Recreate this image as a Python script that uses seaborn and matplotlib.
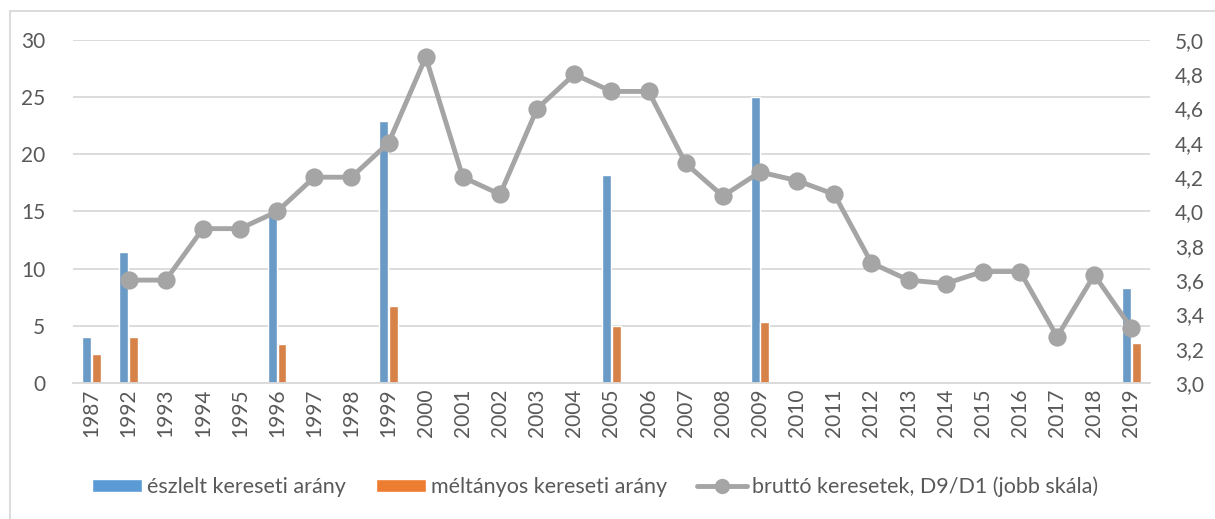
import pandas as pd
import matplotlib
matplotlib.use("Agg")
import matplotlib.pyplot as plt
import seaborn as sns
from matplotlib.lines import Line2D
from matplotlib.patches import Patch
from matplotlib.ticker import FuncFormatter, MultipleLocator

# ---------------- DATA ----------------
years = ["1987"] + [str(y) for y in range(1992, 2020)]

survey_years = ["1987", "1992", "1996", "1999", "2005", "2009", "2019"]
eszlelt = [4.0, 11.5, 15.0, 22.9, 18.2, 25.0, 8.3]
meltanyos = [2.5, 4.0, 3.4, 6.7, 5.0, 5.3, 3.5]

line_years = [str(y) for y in range(1992, 2020)]
d9_d1 = [3.6, 3.6, 3.9, 3.9, 4.0, 4.2, 4.2, 4.4, 4.9, 4.2, 4.1, 4.6, 4.8, 4.7,
         4.7, 4.28, 4.09, 4.23, 4.18, 4.1, 3.7, 3.6, 3.58, 3.65, 3.65, 3.27,
         3.63, 3.32]

lab_eszl = "észlelt kereseti arány"
lab_melt = "méltányos kereseti arány"
lab_line = "bruttó keresetek, D9/D1 (jobb skála)"

BLUE = "#5b9bd5"
ORANGE = "#ed7d31"
GREY = "#a5a5a5"
TXT = "#595959"
GRID = "#d9d9d9"

bars = pd.DataFrame({
    "ev": survey_years * 2,
    "ertek": eszlelt + meltanyos,
    "sor": [lab_eszl] * len(eszlelt) + [lab_melt] * len(meltanyos),
})
line = pd.DataFrame({"ev": line_years, "arany": d9_d1})

# ---------------- PLOT ----------------
sns.set_style("white")
plt.rcParams["font.family"] = ["Lato", "DejaVu Sans"]

fig = plt.figure(figsize=(12.15, 5.19), dpi=100)
ax = fig.add_axes([0.060, 0.262, 0.8865, 0.661])

sns.barplot(data=bars, x="ev", y="ertek", hue="sor", order=years,
            hue_order=[lab_eszl, lab_melt], palette=[BLUE, ORANGE],
            width=0.52, gap=0.08, errorbar=None, legend=False, ax=ax)

ax2 = ax.twinx()
sns.pointplot(data=line, x="ev", y="arany", order=years, color=GREY,
              markers="o", markersize=10.5, linewidth=3.5, errorbar=None, ax=ax2)

ax.set_xlim(-0.5, len(years) - 0.5)
ax.set_ylim(0, 30)
ax.yaxis.set_major_locator(MultipleLocator(5))
ax2.set_ylim(3.0, 5.0)
ax2.yaxis.set_major_locator(MultipleLocator(0.2))
ax2.yaxis.set_major_formatter(FuncFormatter(lambda v, p: f"{v:.1f}".replace(".", ",")))

ax.grid(axis="y", color=GRID, linewidth=1.3)
ax.set_axisbelow(True)
for a in (ax, ax2):
    for s in a.spines.values():
        s.set_visible(False)
    a.set_xlabel("")
    a.set_ylabel("")
ax.spines["bottom"].set_visible(True)
ax.spines["bottom"].set_color(GRID)
ax.spines["bottom"].set_linewidth(1.3)

ax.tick_params(axis="x", labelrotation=90, length=0, labelsize=15,
               labelcolor=TXT, pad=4)
ax.tick_params(axis="y", length=0, labelsize=15, labelcolor=TXT, pad=20)
ax2.tick_params(axis="y", length=0, labelsize=15, labelcolor=TXT, pad=18)
ax2.tick_params(axis="x", length=0)

# ---------------- LEGEND ----------------
handles = [
    Patch(facecolor=BLUE, label=lab_eszl),
    Patch(facecolor=ORANGE, label=lab_melt),
    Line2D([], [], color=GREY, linewidth=3.5, marker="o", markersize=10,
           label=lab_line),
]
fig.legend(handles=handles, loc="center", bbox_to_anchor=(0.49, 0.062),
           ncol=3, frameon=False, fontsize=15.5, labelcolor=TXT,
           handlelength=2.3, handleheight=0.6, handletextpad=0.25,
           columnspacing=1.4)

# outer chart border
fig.add_artist(Line2D([0.008, 1.0], [0.979, 0.979], color=GRID,
                      linewidth=1.3, transform=fig.transFigure))
fig.add_artist(Line2D([0.008, 0.008], [0.0, 0.979], color=GRID,
                      linewidth=1.3, transform=fig.transFigure))

fig.savefig("out.png", dpi=100)
